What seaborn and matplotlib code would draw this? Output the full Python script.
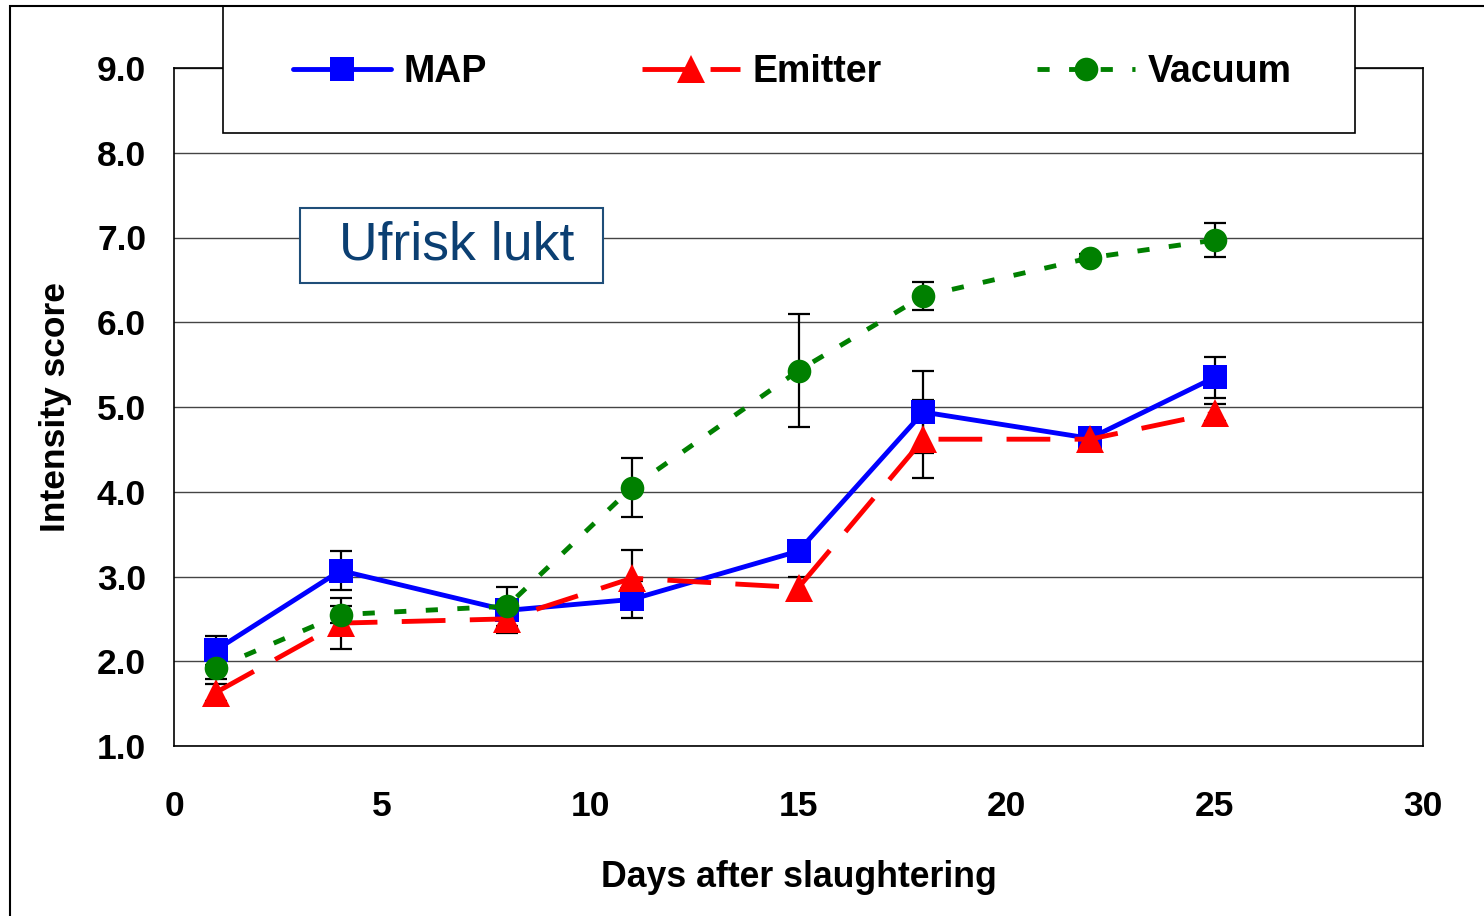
import matplotlib.pyplot as plt
import seaborn as sns
import pandas as pd
from matplotlib.patches import Rectangle

# data
days = [1, 4, 8, 11, 15, 18, 22, 25]
map_vals = [2.13, 3.07, 2.60, 2.73, 3.30, 4.94, 4.63, 5.35]
map_err = [0.17, 0.23, 0.08, 0.22, 0.05, 0.48, 0.05, 0.24]
emitter_vals = [1.63, 2.45, 2.50, 2.98, 2.87, 4.62, 4.62, 4.93]
emitter_err = [0.10, 0.30, 0.17, 0.33, 0.12, 0.46, 0.05, 0.10]
vacuum_vals = [1.92, 2.55, 2.65, 4.05, 5.43, 6.31, 6.76, 6.97]
vacuum_err = [0.13, 0.10, 0.23, 0.35, 0.67, 0.16, 0.05, 0.20]

series = ["MAP", "Emitter", "Vacuum"]
colors = {"MAP": "#0000FF", "Emitter": "#FF0000", "Vacuum": "#008000"}
markers = {"MAP": "s", "Emitter": "^", "Vacuum": "o"}
msizes = {"MAP": 17, "Emitter": 20, "Vacuum": 17}
dashes = {"MAP": "", "Emitter": (9, 5), "Vacuum": (2.5, 4)}

df = pd.DataFrame({
    "day": days * 3,
    "score": map_vals + emitter_vals + vacuum_vals,
    "err": map_err + emitter_err + vacuum_err,
    "group": ["MAP"] * 8 + ["Emitter"] * 8 + ["Vacuum"] * 8,
})

sns.set_style("white")
plt.rcParams["font.family"] = ["Liberation Sans", "DejaVu Sans"]
plt.rcParams.update({"text.color": "black", "axes.labelcolor": "black",
                     "xtick.color": "black", "ytick.color": "black"})

W, H = 1484, 916
fig = plt.figure(figsize=(14.84, 9.16), dpi=100)
ax = fig.add_axes([174 / W, 1 - 746 / H, (1423 - 174) / W, (746 - 68) / H])

# error bars behind the markers
for g in series:
    sub = df[df["group"] == g]
    ax.errorbar(sub["day"], sub["score"], yerr=sub["err"], fmt="none",
                ecolor="black", elinewidth=1.6, capsize=8, capthick=1.6, zorder=2)

n_before = len(ax.lines)
sns.lineplot(data=df, x="day", y="score", hue="group", style="group",
             hue_order=series, style_order=series, palette=colors,
             markers=markers, dashes=dashes, markersize=17,
             markeredgewidth=0, linewidth=3.5, errorbar=None, ax=ax,
             legend=False, zorder=3)
for line, g in zip(ax.lines[n_before:], series):
    line.set_markersize(msizes[g])

ax.set_xlim(0, 30)
ax.set_ylim(1, 9)
ax.set_xticks(range(0, 31, 5))
ax.set_yticks(range(1, 10))
ax.set_yticklabels([f"{v:.1f}" for v in range(1, 10)])
ax.yaxis.grid(True, color="#444444", linewidth=1)
ax.xaxis.grid(False)
ax.set_axisbelow(True)
for s in ax.spines.values():
    s.set_visible(True)
    s.set_color("black")
    s.set_linewidth(1.2)
ax.tick_params(axis="both", direction="out", length=10, width=1.2,
               labelsize=25.5, color="black", labelcolor="black")
ax.tick_params(axis="y", pad=10)
ax.tick_params(axis="x", pad=22)
for lab in ax.get_xticklabels() + ax.get_yticklabels():
    lab.set_fontweight("bold")

ax.set_xlabel("Days after slaughtering", fontsize=25.7, fontweight="bold", labelpad=26)
ax.set_ylabel("Intensity score", fontsize=25.5, fontweight="bold", labelpad=18)

# title box
fig.patches.append(Rectangle((300 / W, 1 - 283 / H), 303 / W, 75 / H,
                             transform=fig.transFigure, facecolor="white",
                             edgecolor="#1F4E79", linewidth=1.5, zorder=4))
fig.text(457 / W, 1 - 246 / H, "Ufrisk lukt", fontsize=38.5, color="#0B3F72",
         ha="center", va="center", zorder=5)

# legend box spanning the top of the chart
fig.patches.append(Rectangle((223 / W, 1 - 133 / H), (1355 - 223) / W, (133 - 6) / H,
                             transform=fig.transFigure, facecolor="white",
                             edgecolor="black", linewidth=1.2, zorder=4))
handles = [plt.Line2D([], [], color=colors[g], marker=markers[g], markersize=msizes[g],
                      markeredgewidth=0, linewidth=3.5,
                      linestyle="-" if g == "MAP" else (0, dashes[g]))
           for g in series]
leg = fig.legend(handles, series, loc="center", ncol=3, mode="expand",
                 bbox_to_anchor=(293 / W, 1 - 102 / H, (1292 - 293) / W, 60 / H),
                 prop={"size": 27, "weight": "bold"}, frameon=False,
                 handlelength=2.6, handletextpad=0.35, borderaxespad=0, borderpad=0)
leg.set_zorder(6)

# outer chart-area border
fig.patches.append(Rectangle((10 / W, -0.05), 1.2, 1 - 6 / H + 0.05,
                             transform=fig.transFigure, fill=False,
                             edgecolor="black", linewidth=1.5, zorder=7))

fig.savefig("out.png", dpi=100)
